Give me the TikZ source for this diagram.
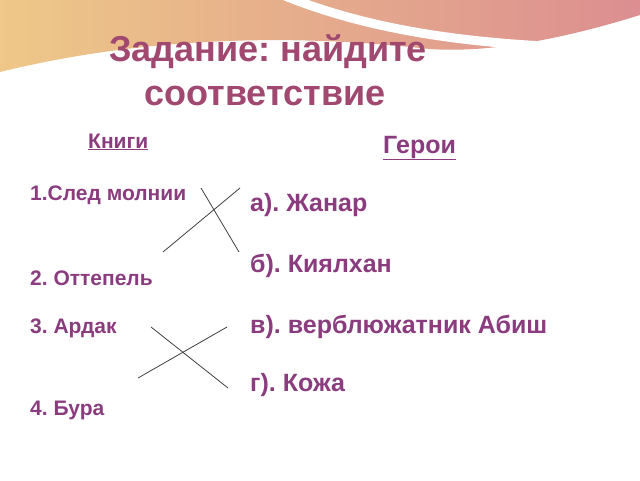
\documentclass[tikz,border=0pt]{standalone}
\usepackage{fontspec}
\setmainfont{Liberation Sans}
\frenchspacing
\begin{document}
\begin{tikzpicture}[x=1pt,y=-1pt,
  ttl/.style={font=\bfseries\fontsize{36}{40}\selectfont,text=titlec},
  lft/.style={font=\bfseries\fontsize{21}{24}\selectfont,text=listc,anchor=west,inner sep=0},
  rgt/.style={font=\bfseries\fontsize{25}{28}\selectfont,text=listc,anchor=west,inner sep=0},
  ln/.style={draw=black!75,line width=0.8pt}]
\definecolor{titlec}{HTML}{A04870}
\definecolor{listc}{HTML}{8A3C7E}
\definecolor{bl}{HTML}{EEC888}
\definecolor{br}{HTML}{DC8E90}
\useasboundingbox (0,0) rectangle (640,480);
\fill[white] (0,0) rectangle (640,480);
\shade[left color=bl, right color=br]
  (0,0) -- (640,0) -- (640,15) .. controls (560,40) and (480,55) .. (420,48)
  .. controls (300,35) and (150,35) .. (0,72) -- cycle;
\draw[white,line width=9pt] (285,-4) .. controls (350,22) and (430,40) .. (545,46);
\node[ttl] (t1) at (268,52) {Задание: найдите};
\node[ttl] (t2) at (265,96) {соответствие};
\node[lft] (kn) at (88,142) {\underline{Книги}};
\node[rgt] (ge) at (383,148) {\underline{Герои}};
\node[lft] (l1) at (30,195) {1.След молнии};
\node[lft] (l2) at (30,278) {2. Оттепель};
\node[lft] (l3) at (30,328) {3. Ардак};
\node[lft] (l4) at (30,410) {4. Бура};
\node[rgt] (r1) at (250,205) {а). Жанар};
\node[rgt] (r2) at (250,266) {б). Киялхан};
\node[rgt] (r3) at (250,327) {в). верблюжатник Абиш};
\node[rgt] (r4) at (250,385) {г). Кожа};
\coordinate (a1) at (201,188); \coordinate (a2) at (239,252);
\coordinate (b1) at (240,188); \coordinate (b2) at (163,252);
\coordinate (c1) at (151,327); \coordinate (c2) at (228,388);
\coordinate (d1) at (227,327); \coordinate (d2) at (138,378);
\draw[ln] (a1) -- (a2);
\draw[ln] (b1) -- (b2);
\draw[ln] (c1) -- (c2);
\draw[ln] (d1) -- (d2);
\end{tikzpicture}
\end{document}
